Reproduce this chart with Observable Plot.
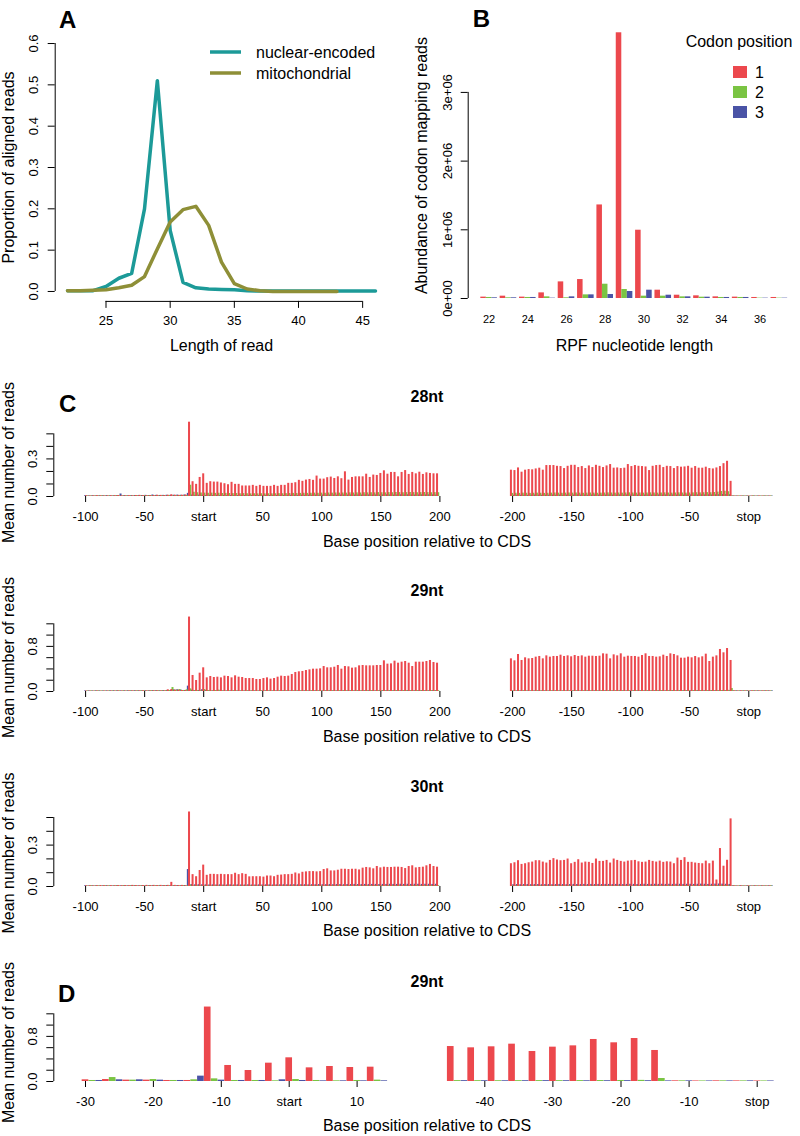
<!DOCTYPE html>
<html><head><meta charset="utf-8">
<script src="https://cdn.jsdelivr.net/npm/d3@7"></script>
<script src="https://cdn.jsdelivr.net/npm/@observablehq/plot@0.6"></script>
<style>
body{margin:0;background:#fff;}
#fig{position:relative;width:800px;height:1136px;font-family:"Liberation Sans",Arial,Helvetica,sans-serif;color:#000;overflow:hidden;background:#fff}
#fig svg{position:absolute;overflow:visible}
</style></head><body><div id="fig"></div>
<script>
// ---------------- DATA ----------------
// Panel A
const readLengths = [22,23,24,25,26,27,28,29,30,31,32,33,34,35,36,37,38,39,40,41,42,43,44,45,46];
const nuclearEncoded = [0.002,0.002,0.002,0.012,0.032,0.044,0.200,0.510,0.148,0.022,0.009,0.006,0.005,0.004,0.002,0.001,0.001,0.001,0.001,0.001,0.001,0.001,0.001,0.001,0.001];
const mitoLengths = [22,23,24,25,26,27,28,29,30,31,32,33,34,35,36,37,38,39,40,41,42,43];
const mitochondrial = [0.002,0.002,0.003,0.004,0.009,0.015,0.036,0.103,0.168,0.198,0.206,0.160,0.071,0.019,0.006,0.002,0.000,0.000,0.000,0.000,0.000,0.000];
const seriesNames = ["nuclear-encoded","mitochondrial"];
const aXTicks = [25,30,35,40,45];
const aYTicks = [0,0.1,0.2,0.3,0.4,0.5,0.6];

// Panel B
const rpfLengths = [22,23,24,25,26,27,28,29,30,31,32,33,34,35,36,37];
const codon1 = [0.020e6,0.034e6,0.020e6,0.082e6,0.242e6,0.276e6,1.362e6,3.868e6,0.994e6,0.121e6,0.048e6,0.039e6,0.024e6,0.020e6,0.015e6,0.015e6];
const codon2 = [0.015e6,0.010e6,0.015e6,0.024e6,0.010e6,0.053e6,0.208e6,0.131e6,0.034e6,0.034e6,0.024e6,0.019e6,0.015e6,0.015e6,0.005e6,0.005e6];
const codon3 = [0.010e6,0.010e6,0.015e6,0.005e6,0.024e6,0.053e6,0.058e6,0.102e6,0.121e6,0.048e6,0.024e6,0.019e6,0.015e6,0.015e6,0.005e6,0.005e6];
const codonNames = ["1","2","3"];
const bXTicks = [22,24,26,28,30,32,34,36];
const bYTicks = [0,1e6,2e6,3e6];
const bYTickLabels = ["0e+00","1e+06","2e+06","3e+06"];

// Panels C/D: mean reads per nucleotide, split by codon position (frame).
// start-anchored: frame1 from -99, frame2 from -98, frame3 from -100, step 3
// stop-anchored : frame1 from -201, frame2 from -200, frame3 from -199, step 3
const startFirst = {1:-99, 2:-98, 3:-100};
const stopFirst  = {1:-201, 2:-200, 3:-199};

// ---- 28nt ----
const red28start = [
 .006,.005,.006,.007,.006,.005,.006,.006,.007,.008,.006,.006,.007,.006,.008,.009,.007,.007,.008,.008,.010,.009,.008,.010,.014,.010,.009,.010,.012,
 .593,.118,.097,.152,.181,.105,.118,.115,.115,.108,
 .102,.094,.113,.097,.097,.084,.084,.084,.089,.081,
 .089,.081,.081,.081,.089,.081,.089,.089,.105,.105,
 .110,.129,.121,.131,.136,.129,.163,.139,.139,.150,
 .155,.144,.157,.142,.197,.131,.152,.157,.157,.157,
 .178,.152,.171,.168,.184,.205,.178,.192,.192,.157,
 .192,.207,.176,.192,.181,.194,.176,.189,.184,.181,
 .181];
const green28start = [
 .005,.004,.005,.005,.006,.004,.005,.005,.006,.005,.005,.006,.005,.005,.006,.005,.006,.007,.006,.005,.006,.006,.005,.007,.006,.006,.008,.006,.008,
 .090,
 .034,.030,.028,.027,.026,.027,.025,.026,.024,.025,
 .024,.023,.024,.022,.023,.022,.021,.022,.021,.022,
 .021,.022,.021,.022,.023,.022,.023,.024,.025,.024,
 .025,.026,.025,.026,.027,.026,.027,.026,.028,.027,
 .028,.027,.028,.027,.029,.028,.029,.028,.030,.029,
 .030,.029,.031,.030,.029,.031,.030,.032,.031,.030,
 .031,.032,.031,.030,.031,.032,.031,.030,.031,.030];
const blue28start = [
 .006,.005,.006,.005,.006,.006,.007,.006,.006,.007,.020,.007,.006,.007,.008,.007,.008,.009,.008,.012,.009,.008,.009,.010,.009,.010,.011,.010,.012,.025,
 .012,.010,.011,.010,.009,.010,.009,.010,.009,.009,
 .009,.008,.009,.008,.009,.008,.009,.008,.009,.008,
 .008,.009,.008,.009,.009,.010,.009,.010,.010,.011,
 .010,.011,.010,.011,.011,.012,.011,.012,.011,.012,
 .012,.011,.012,.013,.012,.013,.012,.013,.012,.013,
 .013,.012,.013,.012,.013,.014,.013,.012,.013,.014,
 .013,.014,.013,.012,.013,.014,.013,.014,.013,.012];
const red28stop = [
 .210,.207,.228,.194,.210,.215,.213,.220,.226,.210,
 .247,.247,.247,.241,.239,.223,.241,.249,.249,.231,
 .239,.223,.244,.231,.249,.241,.231,.244,.255,.226,
 .228,.223,.226,.255,.239,.247,.241,.239,.236,.207,
 .241,.247,.249,.231,.241,.239,.223,.239,.234,.236,
 .241,.226,.239,.226,.226,.234,.223,.220,.228,.239,
 .262,.281,.121,
 .004,.004,.004,.003,.004,.004,.003,.004,.004,.003,.004];
const green28stop = [
 .025,.026,.025,.027,.026,.025,.026,.027,.026,.025,
 .026,.027,.028,.027,.026,.027,.028,.027,.028,.027,
 .026,.027,.028,.027,.026,.027,.028,.029,.028,.027,
 .028,.027,.028,.029,.028,.027,.028,.027,.028,.029,
 .028,.027,.028,.029,.028,.027,.028,.029,.028,.027,
 .028,.029,.030,.029,.030,.031,.030,.032,.035,.040,
 .042,.038,
 .005,.004,.004,.005,.004,.004,.005,.004,.004,.005,.004,.004];
const blue28stop = [
 .010,.011,.010,.011,.010,.011,.012,.011,.010,.011,
 .011,.012,.011,.012,.011,.012,.011,.012,.013,.012,
 .012,.011,.012,.013,.012,.011,.012,.013,.012,.012,
 .013,.012,.013,.012,.013,.012,.011,.012,.013,.012,
 .012,.013,.012,.013,.012,.013,.012,.013,.012,.013,
 .013,.012,.013,.014,.013,.014,.013,.014,.015,.016,
 .016,.014,
 .004,.004,.003,.004,.004,.003,.004,.004,.003,.004,.004,.003];

// ---- 29nt ----
const red29start = [
 .008,.009,.008,.010,.008,.009,.010,.009,.010,.012,.010,.010,.011,.012,.010,.012,.013,.012,.012,.014,.013,.012,.012,
 .030,.035,.024,.024,.018,.018,
 1.320,.284,.195,.325,.420,.242,.266,.248,.254,
 .242,.272,.266,.242,.278,.254,.248,.230,.230,.230,
 .213,.213,.230,.242,.219,.230,.254,.272,.266,.272,
 .301,.337,.349,.355,.372,.384,.396,.396,.402,.443,
 .420,.420,.431,.461,.396,.443,.437,.414,.420,.455,
 .461,.455,.455,.455,.461,.461,.544,.485,.490,.538,
 .502,.520,.532,.502,.443,.520,.520,.520,.532,.550,
 .514,.502];
const green29start = [
 .010,.009,.010,.011,.010,.009,.010,.011,.010,.012,.011,.010,.012,.011,.012,.013,.012,.011,.013,.012,.014,.013,.015,
 .018,.070,.024,.035,.018,.030,
 .047,.018,.018,.012,.035,.018,.012,.018,.024,
 .012,.011,.012,.013,.012,.011,.012,.013,.012,.012,
 .011,.012,.013,.012,.011,.012,.012,.013,.012,.011,
 .012,.013,.012,.013,.012,.013,.014,.013,.012,.013,
 .014,.013,.012,.013,.014,.013,.014,.013,.014,.013,
 .014,.015,.014,.013,.014,.015,.014,.015,.014,.015,
 .014,.015,.016,.015,.014,.015,.016,.015,.014,.015,
 .016,.015];
const blue29start = [
 .010,.011,.010,.012,.011,.010,.011,.012,.013,.012,.011,.012,.013,.012,.014,.013,.012,.014,.013,.015,.014,.013,.015,.016,
 .018,.030,.030,.024,.018,.095,
 .024,.018,.018,.030,.018,.012,.012,.012,.012,
 .011,.010,.011,.012,.011,.010,.011,.012,.011,.011,
 .010,.011,.012,.011,.010,.011,.011,.012,.011,.010,
 .011,.012,.011,.012,.011,.012,.013,.012,.011,.012,
 .013,.012,.011,.012,.013,.012,.013,.012,.013,.012,
 .013,.014,.013,.012,.013,.014,.013,.014,.013,.014,
 .013,.014,.015,.014,.013,.014,.015,.014,.013,.014,
 .015];
const red29stop = [
 .579,.544,.656,.550,.597,.579,.585,.609,.621,.579,
 .632,.609,.621,.621,.644,.621,.632,.615,.638,.621,
 .632,.609,.626,.626,.621,.626,.668,.662,.579,.650,
 .632,.668,.609,.626,.621,.621,.609,.638,.668,.621,
 .621,.609,.615,.644,.621,.668,.656,.632,.591,.591,
 .609,.597,
 .620,.597,.615,.662,.532,.609,.632,.745,.686,.762,.550,
 .012,.010,.012,.011,.010,.012,.011,.010,.012,.011,.010];
const green29stop = [
 .012,.011,.012,.013,.012,.011,.012,.013,.012,.012,
 .011,.012,.013,.012,.011,.012,.012,.013,.012,.011,
 .012,.013,.012,.013,.012,.013,.014,.013,.012,.013,
 .014,.013,.012,.013,.014,.013,.014,.013,.014,.013,
 .014,.015,.014,.013,.014,.015,.014,.015,.014,.015,
 .014,.015,.016,.015,.014,.015,.016,.015,.016,.017,
 .018,.020,
 .053,
 .012,.010,.012,.011,.010,.012,.011,.010,.012,.011,.010];
const blue29stop = [
 .011,.010,.011,.012,.011,.010,.011,.012,.011,.011,
 .010,.011,.012,.011,.010,.011,.011,.012,.011,.010,
 .011,.012,.011,.012,.011,.012,.013,.012,.011,.012,
 .013,.012,.011,.012,.013,.012,.013,.012,.013,.012,
 .013,.014,.013,.012,.013,.014,.013,.014,.013,.014,
 .013,.014,.015,.014,.013,.014,.015,.014,.013,.014,
 .015,.014,
 .011,.012,.010,.011,.012,.010,.011,.012,.010,.011,.012,.010];

// ---- 30nt ----
const red30start = [
 .005,.006,.005,.006,.007,.006,.005,.006,.006,.007,.006,.007,.006,.008,.007,.006,.007,.008,.007,.008,.007,.008,.007,.008,.030,.008,.007,.008,.006,
 .540,.086,.071,.116,.155,.081,.088,.088,.086,.088,
 .086,.086,.086,.096,.086,.093,.088,.070,.071,.071,
 .071,.068,.076,.076,.071,.081,.083,.086,.086,.088,
 .098,.091,.103,.106,.108,.108,.106,.108,.123,.128,
 .113,.113,.118,.125,.125,.123,.125,.125,.120,.133,
 .138,.135,.128,.145,.135,.140,.138,.138,.140,.140,
 .138,.130,.145,.150,.135,.138,.140,.150,.160,.145,
 .140];
const green30start = [
 .004,.005,.004,.005,.004,.005,.005,.004,.005,.004,.005,.004,.005,.005,.004,.005,.004,.005,.004,.005,.005,.004,.005,.004,.005,.004,.005,.006,.005,
 .010,
 .005,.006,.005,.006,.005,.005,.006,.005,.006,.005,
 .005,.006,.005,.005,.006,.005,.006,.005,.005,.006,
 .005,.006,.005,.006,.005,.006,.005,.006,.006,.005,
 .006,.005,.006,.006,.005,.006,.006,.005,.006,.006,
 .006,.007,.006,.006,.007,.006,.007,.006,.006,.007,
 .006,.007,.006,.007,.006,.007,.007,.006,.007,.006,
 .007,.006,.007,.007,.006,.007,.006,.007,.007,.006];
const blue30start = [
 .005,.004,.005,.005,.004,.005,.006,.005,.005,.006,.005,.006,.005,.006,.006,.005,.006,.005,.006,.006,.005,.006,.006,.007,.006,.006,.007,.006,.007,
 .123,
 .014,.012,.013,.012,.012,.011,.012,.011,.012,.011,
 .011,.012,.011,.012,.011,.011,.012,.011,.011,.012,
 .011,.012,.012,.011,.012,.012,.013,.012,.012,.013,
 .012,.013,.013,.012,.013,.013,.014,.013,.013,.014,
 .013,.014,.014,.013,.014,.014,.015,.014,.014,.015,
 .014,.015,.015,.014,.015,.015,.016,.015,.015,.016,
 .015,.016,.015,.016,.016,.015,.016,.016,.015,.016];
const red30stop = [
 .165,.172,.187,.160,.165,.172,.177,.187,.187,.177,
 .170,.189,.202,.192,.187,.189,.199,.165,.175,.194,
 .170,.177,.175,.167,.199,.182,.182,.189,.170,.199,
 .189,.182,.177,.184,.187,.189,.179,.175,.177,.189,
 .182,.177,.184,.175,.179,.177,.165,.206,.189,.209,
 .175,.175,.170,.167,.165,.184,
 .165,.184,.047,.275,.147,.190,.490,
 .005,.004,.005,.004,.005,.004,.005,.004,.005,.004,.005];
const green30stop = [
 .005,.006,.005,.006,.005,.005,.006,.005,.006,.005,
 .005,.006,.005,.005,.006,.005,.006,.005,.005,.006,
 .005,.006,.005,.006,.005,.006,.005,.006,.006,.005,
 .006,.005,.006,.006,.005,.006,.006,.005,.006,.006,
 .006,.007,.006,.006,.007,.006,.007,.006,.006,.007,
 .006,.007,.006,.007,.006,.007,.007,.006,.007,.008,
 .008,.007,
 .004,.005,.004,.005,.004,.005,.004,.005,.004,.005,.004,.005];
const blue30stop = [
 .013,.014,.013,.014,.014,.013,.014,.014,.013,.014,
 .014,.013,.014,.015,.014,.013,.014,.015,.014,.014,
 .015,.014,.015,.014,.015,.014,.015,.015,.014,.015,
 .015,.014,.015,.016,.015,.014,.015,.016,.015,.015,
 .016,.015,.016,.015,.016,.015,.016,.016,.015,.016,
 .016,.015,.016,.017,.016,.015,.016,.017,.018,.017,
 .016,.015,
 .005,.004,.005,.004,.005,.004,.005,.004,.005,.004,.005,.004];

const startTicks = [-100,-50,0,50,100,150,200];
const startTickLabels = ["-100","-50","start","50","100","150","200"];
const stopTicks = [-200,-150,-100,-50,0];
const stopTickLabels = ["-200","-150","-100","-50","stop"];
const dStartTicks = [-30,-20,-10,0,10];
const dStartTickLabels = ["-30","-20","-10","start","10"];
const dStopTicks = [-40,-30,-20,-10,0];
const dStopTickLabels = ["-40","-30","-20","-10","stop"];
const yTicks28 = [0,0.1,0.2,0.3,0.4,0.5], yLabels28 = [0,0.3];
const yTicks29 = [0,0.2,0.4,0.6,0.8,1.0,1.2], yLabels29 = [0,0.8];
const yTicks30 = [0,0.1,0.2,0.3,0.4,0.5], yLabels30 = [0,0.3];

// ---------------- STYLE ----------------
const FONT = '"Liberation Sans", Arial, Helvetica, sans-serif';
const RED = "#EC484D", GREEN = "#7AC443", BLUE = "#4A53A6";
const TEAL = "#1C9A98", OLIVE = "#8E8F37";
const frameColors = [RED, GREEN, BLUE];
const fig = document.getElementById("fig");
const baseStyle = {background: "none", fontFamily: FONT, fontSize: "13px", color: "#000", overflow: "visible"};

function place(el, left, top) {
  el.style.position = "absolute"; el.style.left = left + "px"; el.style.top = top + "px";
  fig.appendChild(el); return el;
}
function txt(s, x, y, {size = 16, weight = "normal", align = "center"} = {}) {
  const d = document.createElement("div");
  d.textContent = s;
  d.style.cssText = `position:absolute;left:${x}px;top:${y}px;font-size:${size}px;font-weight:${weight};line-height:1;white-space:nowrap;transform:translate(${align === "center" ? "-50%" : "0"},-50%);`;
  fig.appendChild(d);
}
// domain for a linear axis from a pixel anchor: value v0 at pixel p0, k px per unit
function domainFrom(v0, p0, k, pxLeft, pxRight) { return [v0 + (pxLeft - p0) / k, v0 + (pxRight - p0) / k]; }
const yTitle = (s, dx) => Plot.text([s], {frameAnchor: "left", textAnchor: "middle", lineAnchor: "middle", dx, rotate: -90, fontSize: 16});
const xTitle = (s, dy) => Plot.text([s], {frameAnchor: "bottom", textAnchor: "middle", lineAnchor: "middle", dy, fontSize: 16});

// ---------------- PANEL A ----------------
{
  const W = 400, H = 360, fl = 54.7, fr = 387.3, ft = 33.1, fb = 300.9;
  const xDom = [21.04, 46.96], yDom = [-0.024, 0.624];
  const nuc = readLengths.map((x, i) => ({x, y: nuclearEncoded[i]}));
  const mit = mitoLengths.map((x, i) => ({x, y: mitochondrial[i]}));
  const p = Plot.plot({
    width: W, height: H, marginLeft: fl, marginRight: W - fr, marginTop: ft, marginBottom: H - fb,
    x: {domain: xDom, label: null}, y: {domain: yDom, label: null}, style: baseStyle,
    marks: [
      Plot.ruleY([yDom[0]], {x1: d3.min(aXTicks), x2: d3.max(aXTicks), stroke: "#000"}),
      Plot.axisX({ticks: aXTicks, tickSize: 7, tickPadding: 12, lineAnchor: "middle", label: null}),
      Plot.ruleX([xDom[0]], {y1: d3.min(aYTicks), y2: d3.max(aYTicks), stroke: "#000"}),
      Plot.axisY({ticks: aYTicks, tickSize: 7, tickPadding: 14, tickRotate: -90, textAnchor: "middle", lineAnchor: "middle", tickFormat: d3.format(".1f"), label: null}),
      Plot.line(nuc, {x: "x", y: "y", stroke: TEAL, strokeWidth: 3.5}),
      Plot.line(mit, {x: "x", y: "y", stroke: OLIVE, strokeWidth: 3.5}),
      xTitle("Length of read", 44),
      yTitle("Proportion of aligned reads", -46.4)
    ]
  });
  place(p, 0, 0);
  const leg = d3.create("svg").attr("width", 200).attr("height", 50);
  [TEAL, OLIVE].forEach((c, i) => {
    leg.append("line").attr("x1", 10).attr("x2", 41).attr("y1", 12 + 21 * i).attr("y2", 12 + 21 * i).attr("stroke", c).attr("stroke-width", 3.5);
    leg.append("text").attr("x", 56).attr("y", 12 + 21 * i).attr("dy", "0.35em").attr("font-size", 16).attr("font-family", FONT).text(seriesNames[i]);
  });
  place(leg.node(), 200, 40);
}

// ---------------- PANEL B ----------------
{
  const W = 400, H = 360, fl = 467.7 - 400, ft = 21.5, fb = 308.65;
  const xDom = domainFrom(22, 488.6, 19.35, 467.7, 800);
  const yDom = [-0.155e6, 4.025e6];
  const barW = 1 / 3.5;
  const rows = rpfLengths.flatMap((len, i) => [codon1[i], codon2[i], codon3[i]].map((v, c) => ({len, codon: c + 1, value: v})));
  const p = Plot.plot({
    width: W, height: H, marginLeft: fl, marginRight: 0, marginTop: ft, marginBottom: H - fb,
    x: {domain: xDom, label: null}, y: {domain: yDom, label: null},
    color: {domain: [1, 2, 3], range: frameColors},
    style: baseStyle,
    marks: [
      Plot.rect(rows, {x1: d => d.len - 1.5 * barW + (d.codon - 1) * barW, x2: d => d.len - 0.5 * barW + (d.codon - 1) * barW, y1: 0, y2: "value", fill: "codon"}),
      Plot.axisX({ticks: bXTicks, tickSize: 0, tickPadding: 10.5, lineAnchor: "middle", fontSize: 11, label: null}),
      Plot.ruleX([xDom[0]], {y1: d3.min(bYTicks), y2: d3.max(bYTicks), stroke: "#000"}),
      Plot.axisY({ticks: bYTicks, tickSize: 7, tickPadding: 13.7, tickRotate: -90, textAnchor: "middle", lineAnchor: "middle", tickFormat: d => bYTickLabels[bYTicks.indexOf(d)], label: null}),
      xTitle("RPF nucleotide length", 36.3),
      yTitle("Abundance of codon mapping reads", -46.2)
    ]
  });
  place(p, 400, 0);
  const leg = d3.create("svg").attr("width", 130).attr("height", 90);
  leg.append("text").attr("x", 59).attr("y", 11).attr("dy", "0.35em").attr("text-anchor", "middle").attr("font-size", 16).attr("font-family", FONT).text("Codon position");
  frameColors.forEach((c, i) => {
    leg.append("rect").attr("x", 53).attr("y", 36 + 20 * i).attr("width", 14).attr("height", 12).attr("fill", c);
    leg.append("text").attr("x", 75).attr("y", 42 + 20 * i).attr("dy", "0.35em").attr("font-size", 16).attr("font-family", FONT).text(codonNames[i]);
  });
  place(leg.node(), 680, 30);
}

// ---------------- PANELS C / D ----------------
function toRows(red, green, blue, first) {
  const out = [];
  [[red, 1], [green, 2], [blue, 3]].forEach(([arr, f]) => arr.forEach((v, i) => out.push({pos: first[f] + 3 * i, frame: f, value: v})));
  return out;
}
function barPlot({rows, range, svgLeft, width, fl, fr, zeroPx, kx, baseline, ky, frameTop, ticks, tickLabels, yTicks, yLabels, bw}) {
  const mT = 35, mB = 60;
  const svgTop = frameTop - mT, H = baseline + mB - svgTop;
  const xDom = domainFrom(0, zeroPx, kx, fl, fr);
  const yDom = [0, (baseline - frameTop) / ky];
  const data = range ? rows.filter(d => d.pos >= range[0] && d.pos <= range[1]) : rows;
  const labelMap = new Map(ticks.map((t, i) => [t, tickLabels[i]]));
  const marks = [3, 2, 1].map(f => Plot.rect(data.filter(d => d.frame === f), {x1: d => d.pos - bw / 2, x2: d => d.pos + bw / 2, y1: 0, y2: "value", fill: "frame"}));
  marks.push(Plot.axisX({ticks, tickSize: 6, tickPadding: 14, lineAnchor: "middle", tickFormat: d => labelMap.get(d), label: null}));
  if (yTicks) {
    marks.push(Plot.ruleX([xDom[0]], {y1: 0, y2: d3.max(yTicks), stroke: "#000"}));
    marks.push(Plot.axisY({ticks: yTicks, tickSize: 7, tickPadding: 14, tickRotate: -90, textAnchor: "middle", lineAnchor: "middle", tickFormat: d => yLabels.includes(d) ? d.toFixed(1) : "", label: null}));
    marks.push(yTitle("Mean number of reads", -45));
  }
  const p = Plot.plot({
    width, height: H, marginLeft: fl - svgLeft, marginRight: svgLeft + width - fr, marginTop: mT, marginBottom: mB,
    x: {domain: xDom, label: null}, y: {domain: yDom, label: null, axis: yTicks ? undefined : null},
    color: {domain: [1, 2, 3], range: frameColors},
    style: baseStyle, marks
  });
  place(p, svgLeft, svgTop);
}

const rowsSpec = [
  {label: "28nt", start: toRows(red28start, green28start, blue28start, startFirst), stop: toRows(red28stop, green28stop, blue28stop, stopFirst), baseline: 496, ky: 125.3, frameTop: 428, yTicks: yTicks28, yLabels: yLabels28},
  {label: "29nt", start: toRows(red29start, green29start, blue29start, startFirst), stop: toRows(red29stop, green29stop, blue29stop, stopFirst), baseline: 691, ky: 56.4, frameTop: 623, yTicks: yTicks29, yLabels: yLabels29},
  {label: "30nt", start: toRows(red30start, green30start, blue30start, startFirst), stop: toRows(red30stop, green30stop, blue30stop, stopFirst), baseline: 885.5, ky: 138, frameTop: 818.5, yTicks: yTicks30, yLabels: yLabels30}
];
const titleY = {"28nt": 397, "29nt": 591, "30nt": 787};
rowsSpec.forEach(r => {
  barPlot({rows: r.start, svgLeft: 0, width: 450, fl: 53.3, fr: 445, zeroPx: 203.2, kx: 1.181, baseline: r.baseline, ky: r.ky, frameTop: r.frameTop, ticks: startTicks, tickLabels: startTickLabels, yTicks: r.yTicks, yLabels: r.yLabels, bw: 1.7});
  barPlot({rows: r.stop, svgLeft: 450, width: 350, fl: 500, fr: 790, zeroPx: 748.3, kx: 1.181, baseline: r.baseline, ky: r.ky, frameTop: r.frameTop, ticks: stopTicks, tickLabels: stopTickLabels, bw: 1.7});
  txt(r.label, 427, titleY[r.label], {weight: "bold"});
  txt("Base position relative to CDS", 427, r.baseline + 45.5);
});
// Panel D: 29nt zoom
{
  const r = rowsSpec[1];
  barPlot({rows: r.start, range: [-30, 14], svgLeft: 0, width: 400, fl: 53.3, fr: 395, zeroPx: 288.7, kx: 6.79, baseline: 1081, ky: 56.4, frameTop: 1003, ticks: dStartTicks, tickLabels: dStartTickLabels, yTicks: yTicks29, yLabels: yLabels29, bw: 0.98});
  barPlot({rows: r.stop, range: [-45, 2], svgLeft: 400, width: 400, fl: 440, fr: 790, zeroPx: 756.7, kx: 6.81, baseline: 1081, ky: 56.4, frameTop: 1003, ticks: dStopTicks, tickLabels: dStopTickLabels, bw: 0.98});
  txt("29nt", 427, 982, {weight: "bold"});
  txt("Base position relative to CDS", 427, 1126);
}
// panel letters
txt("A", 59, 20, {size: 24, weight: "bold", align: "left"});
txt("B", 472.7, 18.5, {size: 24, weight: "bold", align: "left"});
txt("C", 59, 404, {size: 24, weight: "bold", align: "left"});
txt("D", 58, 994, {size: 24, weight: "bold", align: "left"});
</script></body></html>
